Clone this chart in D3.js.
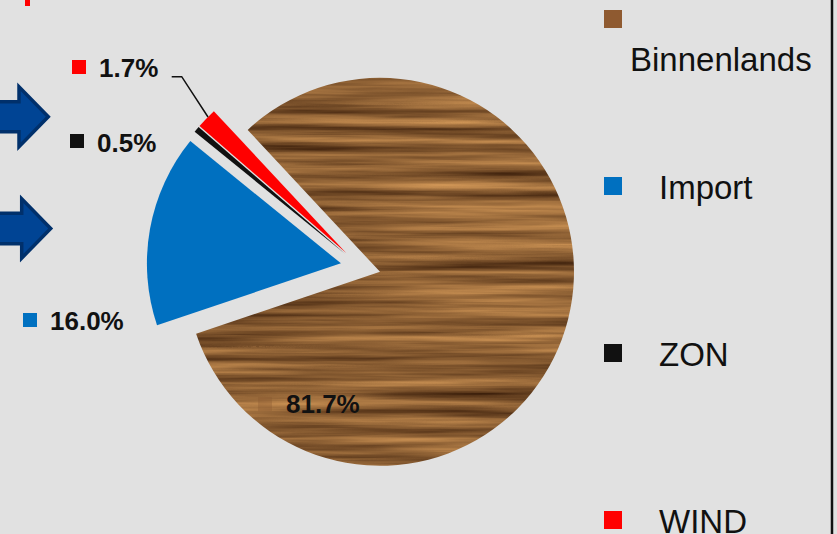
<!DOCTYPE html>
<html>
<head>
<meta charset="utf-8">
<script src="https://cdn.jsdelivr.net/npm/d3@7"></script>
<style>
  html, body { margin: 0; padding: 0; background: #e1e1e1; }
  svg { display: block; }
</style>
</head>
<body>
<svg id="chart" width="837" height="534"></svg>
<script>
// ---- data ----
const categories = ["Binnenlands", "Import", "ZON", "WIND"];
const values = [81.7, 16.0, 0.5, 1.7];
const colors = ["wood", "#0070c0", "#111111", "#ff0000"];

const W = 837, H = 534;
const svg = d3.select("#chart");
svg.append("rect").attr("width", W).attr("height", H).attr("fill", "#e1e1e1");

// wood texture filter (deterministic turbulence)
const defs = svg.append("defs");
const f = defs.append("filter").attr("id", "wood")
  .attr("color-interpolation-filters", "sRGB")
  .attr("x", "-5%").attr("y", "-5%").attr("width", "110%").attr("height", "110%");
f.append("feTurbulence").attr("type", "fractalNoise")
  .attr("baseFrequency", "0.0035 0.11").attr("numOctaves", 4).attr("seed", 7).attr("result", "n");
f.append("feColorMatrix").attr("in", "n").attr("type", "matrix")
  .attr("values", "0.75 0 0 0 0.17  0.6 0 0 0 0.07  0.38 0 0 0 0.01  0 0 0 0 1").attr("result", "c");
f.append("feComposite").attr("in", "c").attr("in2", "SourceGraphic").attr("operator", "in");

// ---- pie ----
const cx = 360.6, cy = 266.9, R = 194, explode = 20;
const start = -43 * Math.PI / 180;
const pie = d3.pie().sort(null).startAngle(start).endAngle(start + 2 * Math.PI);
const arc = d3.arc().innerRadius(0).outerRadius(R);
const arcs = pie(values);

const g = svg.append("g").attr("transform", `translate(${cx},${cy})`);
g.selectAll("path").data(arcs).join("path")
  .attr("d", arc)
  .attr("transform", d => {
    const a = (d.startAngle + d.endAngle) / 2;
    return `translate(${explode * Math.sin(a)},${-explode * Math.cos(a)})`;
  })
  .attr("fill", (d, i) => colors[i] === "wood" ? "#8a5a30" : colors[i])
  .attr("filter", (d, i) => colors[i] === "wood" ? "url(#wood)" : null);

// ---- data labels ----
const fmt = d => d3.format(".1f")(d) + "%";
const labelPos = [
  { sx: 258, sy: 397, tx: 286, ty: 413, faint: true },
  { sx: 23, sy: 313, tx: 50, ty: 330 },
  { sx: 70, sy: 134, tx: 97, ty: 152 },
  { sx: 72, sy: 60, tx: 99, ty: 77 }
];
values.forEach((v, i) => {
  const p = labelPos[i];
  svg.append("rect").attr("x", p.sx).attr("y", p.sy).attr("width", 14).attr("height", 14)
    .attr("fill", colors[i] === "wood" ? "#8a5a32" : colors[i])
    .attr("opacity", p.faint ? 0.35 : 1);
  svg.append("text").attr("x", p.tx).attr("y", p.ty)
    .attr("font-family", "Liberation Sans, Arial, sans-serif")
    .attr("font-weight", "bold").attr("font-size", 26).attr("fill", "#111")
    .text(fmt(v));
});

// leader line for WIND label
svg.append("polyline")
  .attr("points", "171.7,76.7 181.7,76.7 208,117")
  .attr("fill", "none").attr("stroke", "#111").attr("stroke-width", 1.5);

// ---- legend ----
const legY = [19, 186, 353, 520];
categories.forEach((c, i) => {
  const y = legY[i];
  svg.append("rect").attr("x", 604).attr("y", y - 9).attr("width", 18).attr("height", 18)
    .attr("fill", colors[i] === "wood" ? "#8f5a30" : colors[i]);
  const wrap = i === 0;
  svg.append("text")
    .attr("x", wrap ? 630 : 659)
    .attr("y", wrap ? 71 : y + 12.5)
    .attr("font-family", "Liberation Sans, Arial, sans-serif")
    .attr("font-size", 33).attr("fill", "#111")
    .text(c);
});

// right border line
svg.append("line").attr("x1", 832).attr("x2", 832).attr("y1", 0).attr("y2", H)
  .attr("stroke", "#111").attr("stroke-width", 2.5);

// ---- decorations: arrows & red mark ----
function arrow(cyA, bodyHalf, headX, tipX, headHalf) {
  return `M-10,${cyA - bodyHalf} L${headX},${cyA - bodyHalf} L${headX},${cyA - headHalf} L${tipX},${cyA} L${headX},${cyA + headHalf} L${headX},${cyA + bodyHalf} L-10,${cyA + bodyHalf} Z`;
}
svg.append("path").attr("d", arrow(116.7, 15, 19, 48.3, 30))
  .attr("fill", "#004494").attr("stroke", "#00306b").attr("stroke-width", 3.5).attr("stroke-linejoin", "miter");
svg.append("path").attr("d", arrow(228.5, 15.3, 21.7, 50.7, 29.6))
  .attr("fill", "#004494").attr("stroke", "#00306b").attr("stroke-width", 3.5).attr("stroke-linejoin", "miter");

svg.append("rect").attr("x", 25).attr("y", 0).attr("width", 5).attr("height", 6).attr("fill", "#ff0000");
</script>
</body>
</html>
